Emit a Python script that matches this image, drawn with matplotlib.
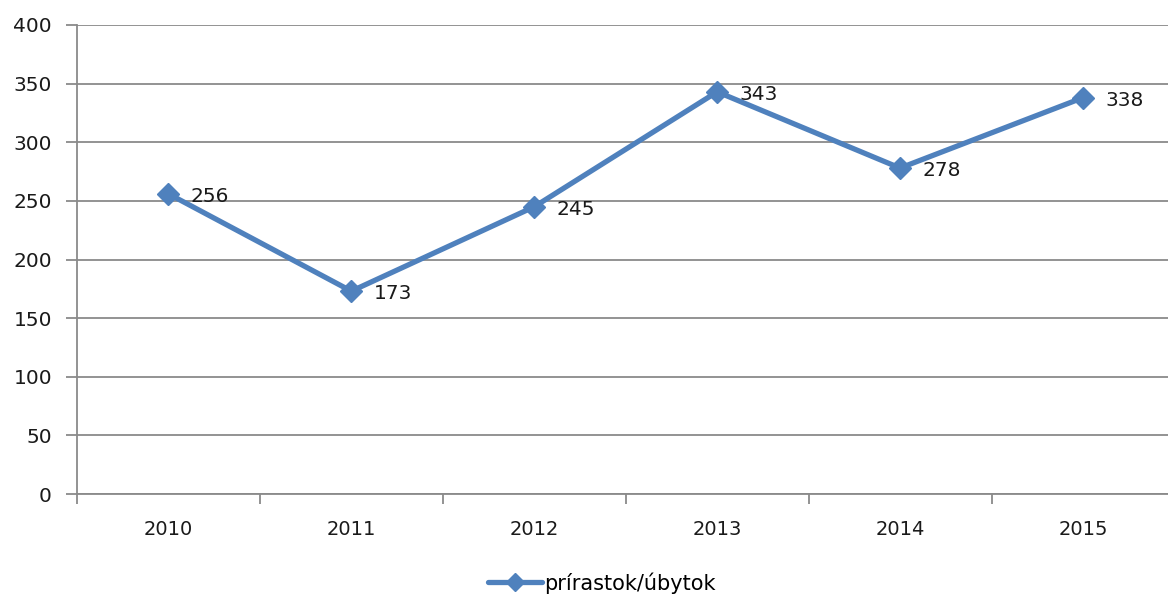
import matplotlib.pyplot as plt
import numpy as np

years = ["2010", "2011", "2012", "2013", "2014", "2015"]
values = [256, 173, 245, 343, 278, 338]
series_name = "prírastok/úbytok"
yticks = [0, 50, 100, 150, 200, 250, 300, 350, 400]

plt.rcParams['font.family'] = ['DejaVu Sans']

W, H = 1168, 597
fig = plt.figure(figsize=(W / 100, H / 100), dpi=100)
ax = fig.add_axes([77 / W, 1 - 494 / H, 1 - 77 / W, (494 - 25) / H])

x = np.arange(len(years))
color = '#4F81BD'
gray = '#8a8a8a'
ax.plot(x, values, color=color, lw=3.8, marker='D', markersize=11.5,
        label=series_name, solid_capstyle='round', solid_joinstyle='miter')

for xi, v in zip(x, values):
    ax.annotate(str(v), (xi, v), xytext=(16, -2), textcoords='offset points',
                va='center', ha='left', fontsize=14.5, color='#1a1a1a')

ax.set_xlim(-0.5, -0.5 + (W - 77) / 182.9)
ax.set_ylim(0, 400)
ax.set_yticks(yticks)
ax.set_yticklabels([str(t) for t in yticks], fontsize=14.5, color='#1a1a1a')
ax.yaxis.grid(True, color=gray, lw=1.3)
ax.set_axisbelow(True)

ax.set_xticks(x)
ax.set_xticklabels(years, fontsize=14, color='#1a1a1a')
ax.set_xticks(list(np.arange(-0.5, len(years) - 0.5, 1.0)), minor=True)
ax.tick_params(axis='x', which='major', length=0, pad=19)
ax.tick_params(axis='x', which='minor', length=7, color=gray, width=1.3)
ax.tick_params(axis='y', length=8, color=gray, width=1.3, pad=10)

for s in ['top', 'right']:
    ax.spines[s].set_visible(False)
for s in ['left', 'bottom']:
    ax.spines[s].set_color(gray)
    ax.spines[s].set_linewidth(1.3)

leg = fig.legend(loc='center', bbox_to_anchor=(602 / W, 1 - 583 / H),
                 frameon=False, fontsize=15, handlelength=2.6, handletextpad=0.1,
                 markerscale=0.8)

fig.savefig('out.png', dpi=100)
